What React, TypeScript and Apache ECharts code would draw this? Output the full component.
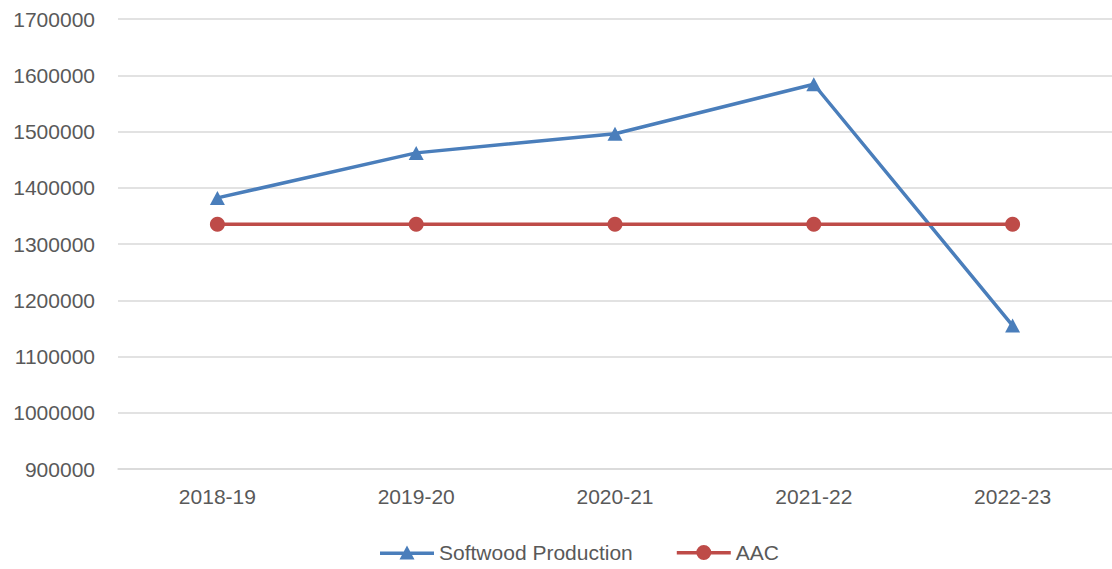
import React, { useEffect, useRef } from "react";
import * as echarts from "echarts";

const categories = ["2018-19", "2019-20", "2020-21", "2021-22", "2022-23"];
const softwoodProduction = [1382000, 1462000, 1496000, 1584000, 1155000];
const aac = [1335000, 1335000, 1335000, 1335000, 1335000];

const triIcon =
  "path://M0,6H54V9.5H0Z M27,0L34.5,14L19.5,14Z";
const circleIcon =
  "path://M0,6H54V9.5H0Z M34.5,7.5A7.5,7.5 0 1 1 19.5,7.5A7.5,7.5 0 1 1 34.5,7.5Z";

export default function App() {
  const ref = useRef<HTMLDivElement>(null);
  useEffect(() => {
    const chart = echarts.init(ref.current!, null, { renderer: "svg" });
    const font = "'Liberation Sans', Arial, sans-serif";
    chart.setOption({
      animation: false,
      backgroundColor: "#ffffff",
      textStyle: { fontFamily: font },
      grid: { left: 118, top: 19, width: 995, height: 450, containLabel: false },
      xAxis: {
        type: "category",
        data: categories,
        boundaryGap: true,
        axisLine: { show: true, lineStyle: { color: "#d9d9d9", width: 1.5 } },
        axisTick: { show: false },
        axisLabel: { color: "#595959", fontSize: 21, margin: 17, fontFamily: font },
      },
      yAxis: {
        type: "value",
        min: 900000,
        max: 1700000,
        interval: 100000,
        axisLine: { show: false },
        axisTick: { show: false },
        splitLine: { lineStyle: { color: "#d9d9d9", width: 1.5 } },
        axisLabel: {
          color: "#595959",
          fontSize: 21,
          margin: 23,
          fontFamily: font,
          formatter: (v: number) => String(v),
        },
      },
      legend: {
        bottom: 1,
        left: 375,
        itemWidth: 54,
        itemHeight: 15,
        itemGap: 44,
        textStyle: { color: "#595959", fontSize: 21, fontFamily: font },
        data: [
          { name: "Softwood Production", icon: triIcon },
          { name: "AAC", icon: circleIcon },
        ],
      },
      series: [
        {
          name: "Softwood Production",
          type: "line",
          data: softwoodProduction,
          symbol: "triangle",
          symbolSize: [15, 14],
          lineStyle: { color: "#4a7ebb", width: 3.5 },
          itemStyle: { color: "#4a7ebb" },
        },
        {
          name: "AAC",
          type: "line",
          data: aac,
          symbol: "circle",
          symbolSize: 15,
          lineStyle: { color: "#be4b48", width: 3.5 },
          itemStyle: { color: "#be4b48" },
        },
      ],
    });
    return () => chart.dispose();
  }, []);
  return (
    <div
      ref={ref}
      style={{ position: "fixed", left: 0, top: 0, width: 1112, height: 569 }}
    />
  );
}
